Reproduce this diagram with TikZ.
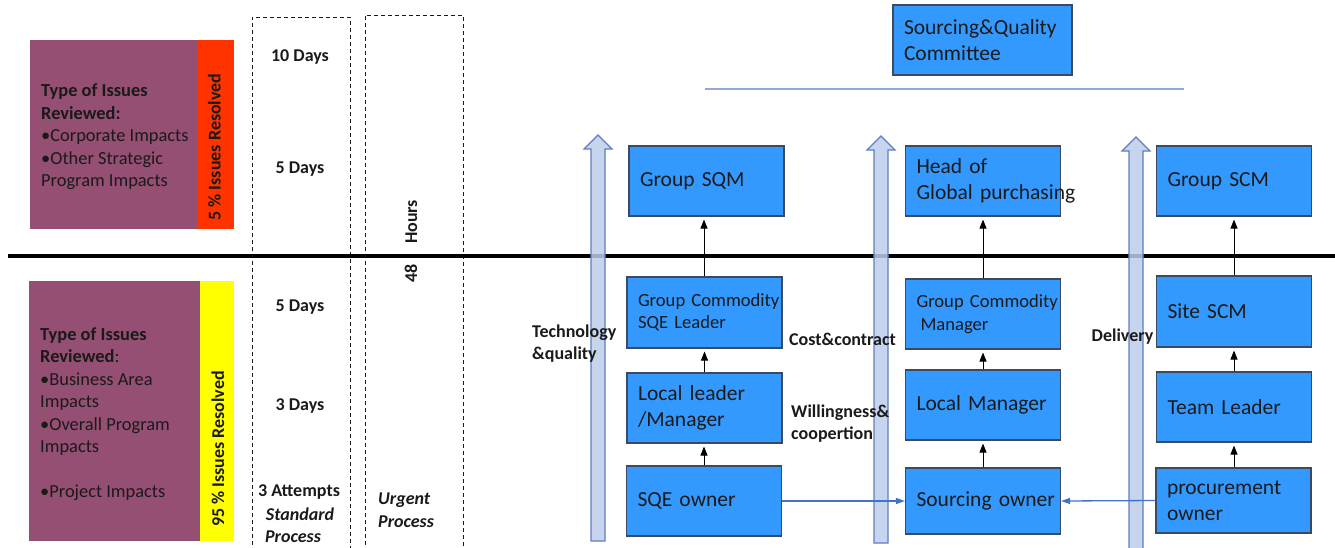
\documentclass[tikz,border=0pt]{standalone}
\usepackage{fontspec}
\setmainfont{Carlito}
\usetikzlibrary{arrows.meta}
\definecolor{boxblue}{HTML}{3399FF}
\definecolor{boxline}{HTML}{3B4A60}
\definecolor{mauve}{HTML}{954F72}
\definecolor{redbar}{HTML}{FF3300}
\definecolor{yelbar}{HTML}{FFFF00}
\definecolor{arrfill}{HTML}{BCCCEA}
\definecolor{arrline}{HTML}{5E7FC0}
\definecolor{conblue}{HTML}{4472C4}
\definecolor{thinblue}{HTML}{8FAADC}
\definecolor{txt}{HTML}{1A1A1A}
\tikzset{
  orgbox/.style={draw=boxline, line width=1.1pt, fill=boxblue, minimum width=155pt,
    minimum height=70pt, inner xsep=11pt, inner ysep=2pt, text width=133pt, align=left,
    font=\fontsize{21.5}{26}\selectfont, text=txt},
  smallbox/.style={orgbox, font=\fontsize{18.6}{22.5}\selectfont},
  lbl/.style={font=\bfseries\fontsize{18}{22}\selectfont, inner sep=0pt, text=txt},
  lbll/.style={lbl, anchor=west, align=left},
  plain/.style={font=\fontsize{18.4}{22.5}\selectfont, inner sep=0pt, text=txt, anchor=west, align=left},
  vconn/.style={-{Triangle[length=9pt,width=7pt]}, line width=0.9pt, black, shorten >=3pt},
  hconn/.style={-{Triangle[length=9pt,width=6pt]}, line width=1.3pt, conblue},
  hollow/.style={draw=arrline, line width=1.2pt, fill=arrfill, fill opacity=0.85},
  dashbox/.style={draw=txt, line width=0.8pt, dash pattern=on 4pt off 3pt},
}
\begin{document}
\begin{tikzpicture}[x=1pt,y=-1pt]
\useasboundingbox (0,0) rectangle (1335,547);
% left coloured blocks
\fill[mauve] (30,40) rectangle (197,229);
\fill[redbar] (197,40) rectangle (234,229);
\fill[mauve] (29,281) rectangle (200,541);
\fill[yelbar] (200,281) rectangle (234,541);
% dashed columns
\draw[dashbox] (252,552) -- (252,17) -- (350,17) -- (350,552);
\draw[dashbox] (365,552) -- (365,15) -- (463,15) -- (463,552);
% main black separator
\draw[line width=4.5pt, black] (8,256) -- (1335,256);
% thin blue line under committee
\draw[thinblue, line width=1.6pt] (705,89) -- (1184,89);
% hollow up arrows
\foreach \cx/\ty/\by in {598/135/541, 881/136/543, 1136/137/552}
  \draw[hollow] ({\cx-7},\by) -- ({\cx-7},{\ty+14}) -- ({\cx-14},{\ty+14}) -- (\cx,\ty)
     -- ({\cx+14},{\ty+14}) -- ({\cx+7},{\ty+14}) -- ({\cx+7},\by) -- cycle;
% committee
\node[orgbox, minimum width=179pt, text width=157pt, minimum height=70pt] (com) at (982.5,40) {\mbox{Sourcing\&Quality}\\Committee};
% column 1
\node[orgbox] (sqm) at (706.5,181) {\mbox{Group SQM}};
\node[smallbox, minimum height=71pt] (gcsqe) at (704.5,312.5) {\mbox{Group Commodity}\\\mbox{SQE Leader}};
\node[orgbox] (llm) at (704.5,408) {\mbox{Local leader}\\/Manager};
\node[orgbox] (sqeo) at (704,501) {\mbox{SQE owner}};
% column 2
\node[orgbox] (head) at (983,181) {\mbox{Head of}\\\mbox{Global purchasing}};
\node[smallbox, minimum height=70pt] (gcm) at (983,314) {\mbox{Group Commodity}\\\hspace*{4pt}Manager};
\node[orgbox] (lm) at (983,405) {\mbox{Local Manager}};
\node[orgbox, minimum height=66pt] (so) at (983,501) {\mbox{Sourcing owner}};
% column 3
\node[orgbox] (gscm) at (1234,181) {\mbox{Group SCM}};
\node[orgbox, minimum height=71pt] (sscm) at (1234,311.5) {\mbox{Site SCM}};
\node[orgbox] (tl) at (1234,407) {\mbox{Team Leader}};
\node[orgbox, minimum height=65pt] (po) at (1233.5,500.5) {procurement\\owner};
% vertical connectors
\draw[vconn] (gcsqe.north -| 704,0) -- (704,0 |- sqm.south);
\draw[vconn] (llm.north) -- (gcsqe.south);
\draw[vconn] (sqeo.north -| 704,0) -- (704,0 |- llm.south);
\draw[vconn] (gcm.north) -- (head.south);
\draw[vconn] (lm.north) -- (gcm.south);
\draw[vconn] (so.north) -- (lm.south);
\draw[vconn] (sscm.north) -- (gscm.south);
\draw[vconn] (tl.north) -- (sscm.south);
\draw[vconn] (po.north -| tl.south) -- (tl.south);
% horizontal connectors
\draw[hconn] (sqeo.east) -- (so.west);
\draw[hconn] (po.west) -- (so.east);
% left texts
\node[plain] (t1) at (41,137) {\textbf{Type of Issues}\\\textbf{Reviewed:}\\•Corporate Impacts\\•Other Strategic\\Program Impacts};
\node[plain] (t2) at (40,414) {\textbf{Type of Issues}\\\textbf{Reviewed}:\\•Business Area\\Impacts\\•Overall Program\\Impacts\\[22.5pt]•Project Impacts};
\node[lbl, rotate=90] (r1) at (214.5,147) {5 \% Issues Resolved};
\node[lbl, rotate=90] (r2) at (218,449) {95 \% Issues Resolved};
% time labels
\node[lbl] (d1) at (300,57) {10 Days};
\node[lbl] (d2) at (300,169) {5 Days};
\node[lbl] (d3) at (300,307) {5 Days};
\node[lbl] (d4) at (300,406) {3 Days};
\node[lbl] (d5) at (299,492) {3 Attempts};
\node[lbl, font=\bfseries\itshape\fontsize{18}{22}\selectfont] (d6) at (300,514) {Standard};
\node[lbl, font=\bfseries\itshape\fontsize{18}{22}\selectfont] (d7) at (293,537) {Process};
\node[lbll, font=\bfseries\itshape\fontsize{18}{22}\selectfont] (u1) at (378,500) {Urgent};
\node[lbll, font=\bfseries\itshape\fontsize{18}{22}\selectfont] (u2) at (378,522) {Process};
\node[lbl, rotate=90] (h48) at (411,241) {48\hspace{20pt}Hours};
% flow labels
\node[lbll] (tq) at (532,344) {Technology\\\&quality};
\node[lbll] (cc) at (789,339) {Cost\&contract};
\node[lbll] (wc) at (791,424) {Willingness\&\\coopertion};
\node[lbl] (dl) at (1122.5,337) {Delivery};
\end{tikzpicture}
\end{document}
